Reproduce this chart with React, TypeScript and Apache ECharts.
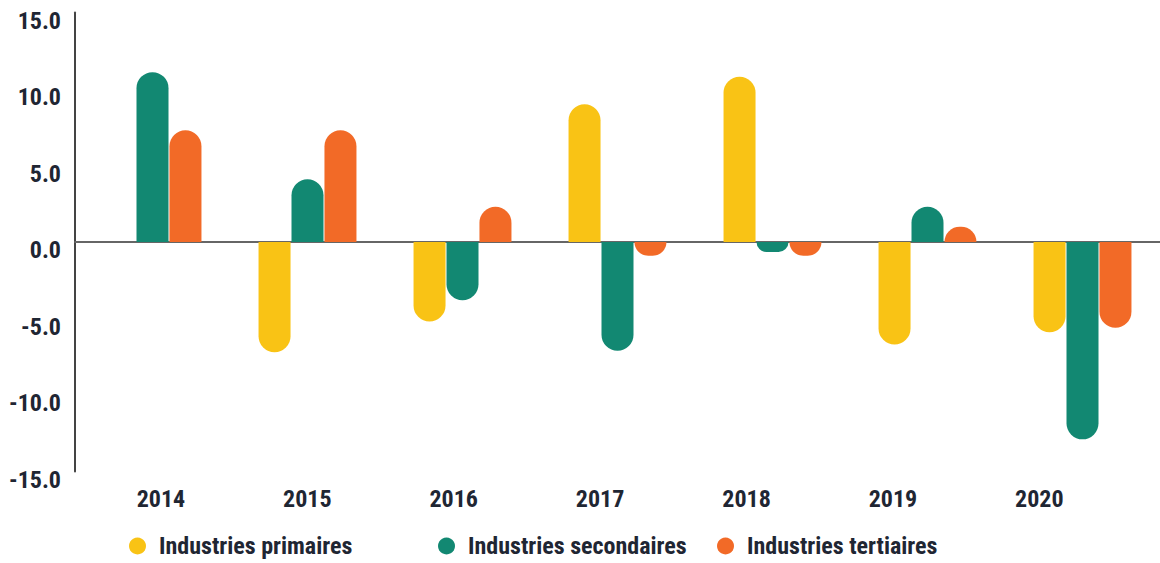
import React, { useEffect, useRef } from "react";
import * as echarts from "echarts";

const years = ["2014", "2015", "2016", "2017", "2018", "2019", "2020"];
const primaires = [0, -7.2, -5.2, 9.0, 10.8, -6.7, -5.9];
const secondaires = [11.1, 4.1, -3.8, -7.1, -0.65, 2.3, -12.9];
const tertiaires = [7.3, 7.3, 2.3, -0.9, -0.9, 1.0, -5.6];
const yTicks = { min: -15, max: 15, interval: 5 };

const seriesNames = ["Industries primaires", "Industries secondaires", "Industries tertiaires"];
const colors = ["#F9C315", "#128872", "#F26A27"];

const FONT = "'Roboto Condensed', 'Liberation Sans Narrow', 'DejaVu Sans Condensed', Roboto, sans-serif";
const TEXT = "#1f2633";

function toItems(vals: number[]) {
  return vals.map((v) => ({
    value: v,
    itemStyle: { borderRadius: v >= 0 ? [16, 16, 0, 0] : [0, 0, 16, 16] },
  }));
}

export default function App() {
  const ref = useRef<HTMLDivElement>(null);
  useEffect(() => {
    if (!ref.current) return;
    const chart = echarts.init(ref.current, undefined, { renderer: "svg" });
    const allSeries = [primaires, secondaires, tertiaires];
    const legendLefts = [124, 433, 712];
    chart.setOption({
      animation: false,
      backgroundColor: "#ffffff",
      grid: [
        { left: 75, right: 0, top: 12.5, bottom: 91.5 },
        { left: 87.7, right: 47.5, top: 12.5, bottom: 91.5 },
      ],
      legend: seriesNames.map((n, i) => ({
        data: [n],
        left: legendLefts[i],
        top: 529,
        icon: "circle",
        itemWidth: 17,
        itemHeight: 17,
        itemGap: 0,
        textStyle: {
          color: TEXT,
          fontFamily: FONT,
          fontWeight: "bold",
          fontSize: 24,
          padding: [0, 0, 0, 8],
        },
      })),
      xAxis: [
        {
          type: "category",
          data: years,
          gridIndex: 0,
          position: "bottom",
          axisLine: { onZero: true, lineStyle: { color: "#666", width: 2 } },
          axisTick: { show: false },
          axisLabel: { show: false },
        },
        {
          type: "category",
          data: years,
          gridIndex: 1,
          position: "bottom",
          axisLine: { show: false, onZero: false },
          axisTick: { show: false },
          axisLabel: {
            color: TEXT,
            fontFamily: FONT,
            fontWeight: "bold",
            fontSize: 24,
            margin: 15,
          },
        },
      ],
      yAxis: [
        {
          type: "value",
          gridIndex: 0,
          min: yTicks.min,
          max: yTicks.max,
          interval: yTicks.interval,
          splitLine: { show: false },
          axisLine: { show: true, lineStyle: { color: "#444", width: 2 } },
          axisTick: { show: false },
          axisLabel: {
            color: TEXT,
            fontFamily: FONT,
            fontWeight: "bold",
            fontSize: 24,
            margin: 14,
            verticalAlign: "top",
            lineHeight: 16,
            formatter: (v: number) => v.toFixed(1),
          },
        },
        {
          type: "value",
          gridIndex: 1,
          show: false,
          min: yTicks.min,
          max: yTicks.max,
        },
      ],
      series: allSeries.map((vals, i) => ({
        name: seriesNames[i],
        type: "bar",
        xAxisIndex: 0,
        yAxisIndex: 0,
        barWidth: 32,
        barGap: "3%",
        itemStyle: { color: colors[i] },
        data: toItems(vals),
      })),
    });
    return () => chart.dispose();
  }, []);
  return (
    <div
      ref={ref}
      style={{ position: "fixed", left: 0, top: 0, width: 1160, height: 563 }}
    />
  );
}
